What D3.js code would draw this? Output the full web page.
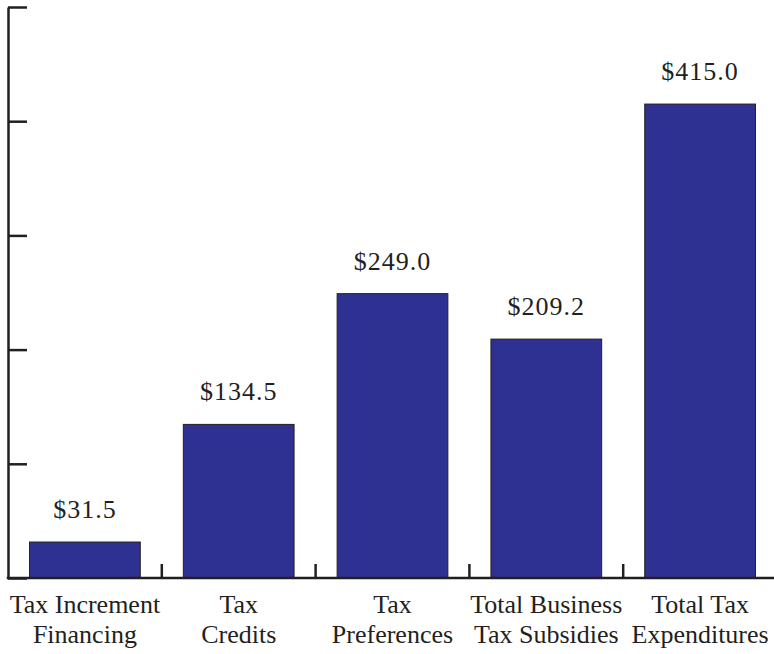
<!DOCTYPE html>
<html>
<head>
<meta charset="utf-8">
<script src="https://cdn.jsdelivr.net/npm/d3@7"></script>
<style>
  html, body { margin: 0; padding: 0; background: #fff; }
  svg { display: block; }
  text { font-family: "Liberation Serif", "DejaVu Serif", serif; fill: #231f20; }
</style>
</head>
<body>
<svg id="chart" width="774" height="654"></svg>
<script>
// Business tax subsidies, in millions of dollars
const categories = [
  ["Tax Increment", "Financing"],
  ["Tax", "Credits"],
  ["Tax", "Preferences"],
  ["Total Business", "Tax Subsidies"],
  ["Total Tax", "Expenditures"]
];
const values = [31.5, 134.5, 249.0, 209.2, 415.0];
const yTicks = [0, 100, 200, 300, 400, 500];

const svg = d3.select("#chart");
const x0 = 8, xEnd = 777, yBase = 578, yTop = 7;

const x = d3.scaleBand()
  .domain(d3.range(values.length))
  .range([x0, xEnd])
  .paddingInner(0.28)
  .paddingOuter(0.14);

const y = d3.scaleLinear().domain([0, 500]).range([yBase, yTop]);

const ink = "#231f20";

// Bars
svg.append("g").selectAll("rect")
  .data(values)
  .join("rect")
  .attr("x", (d, i) => x(i))
  .attr("y", d => y(d))
  .attr("width", x.bandwidth())
  .attr("height", d => yBase - y(d))
  .attr("fill", "#2e3192")
  .attr("stroke", ink)
  .attr("stroke-width", 1);

// Value labels
svg.append("g").selectAll("text")
  .data(values)
  .join("text")
  .attr("x", (d, i) => x(i) + x.bandwidth() / 2)
  .attr("y", d => y(d) - 24)
  .attr("text-anchor", "middle")
  .attr("font-size", 26)
  .attr("letter-spacing", 1)
  .text(d => "$" + d3.format(".1f")(d));

// Y axis: line with inward ticks, no labels
const yAxis = d3.axisRight(y).tickValues(yTicks).tickSize(19).tickFormat("").tickSizeOuter(0);
const gy = svg.append("g").attr("transform", `translate(${x0},0)`).call(yAxis);
gy.select(".domain").attr("stroke", ink).attr("stroke-width", 2.5);
gy.selectAll(".tick line").attr("stroke", ink).attr("stroke-width", 2.5);

// X axis: baseline with upward ticks between categories
const step = x.step();
const xTickPos = d3.range(values.length + 1).map(i => x0 + i * step);
const gx = svg.append("g");
gx.append("line")
  .attr("x1", x0 - 1.25).attr("x2", 774)
  .attr("y1", yBase).attr("y2", yBase)
  .attr("stroke", ink).attr("stroke-width", 2.5);
gx.selectAll("line.tick")
  .data(xTickPos.slice(1))
  .join("line")
  .attr("class", "tick")
  .attr("x1", d => d).attr("x2", d => d)
  .attr("y1", yBase).attr("y2", yBase - 14)
  .attr("stroke", ink).attr("stroke-width", 2.5);

// Category labels
const lab = svg.append("g").selectAll("text")
  .data(categories)
  .join("text")
  .attr("x", (d, i) => x(i) + x.bandwidth() / 2)
  .attr("y", 613)
  .attr("text-anchor", "middle")
  .attr("font-size", 26);
lab.selectAll("tspan")
  .data(d => d)
  .join("tspan")
  .attr("x", function () { return d3.select(this.parentNode).attr("x"); })
  .attr("dy", (d, i) => i === 0 ? 0 : 30)
  .text(d => d);
</script>
</body>
</html>
